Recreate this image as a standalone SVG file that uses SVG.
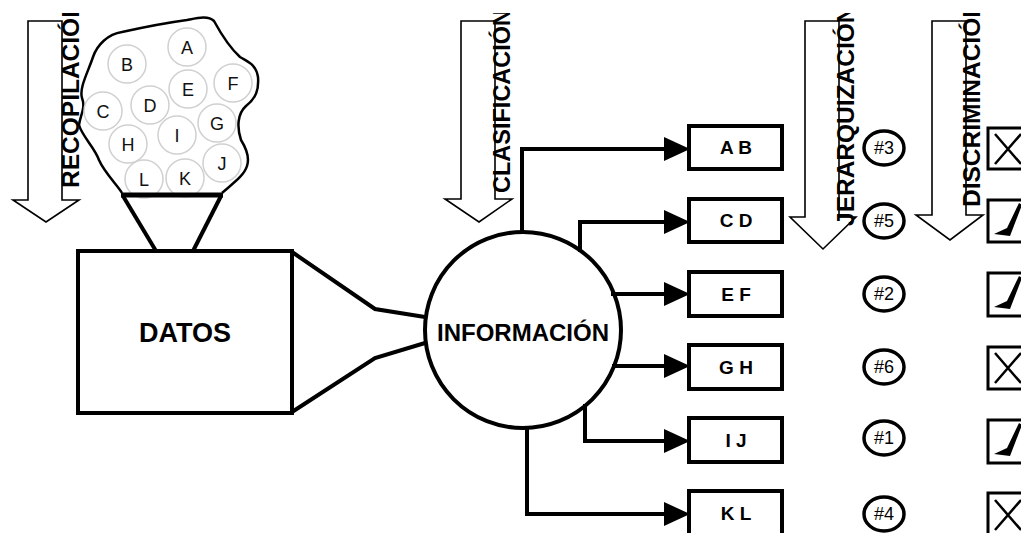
<svg xmlns="http://www.w3.org/2000/svg" width="1021" height="533" viewBox="0 0 1021 533">
<style>
.blk{fill:none;stroke:#000;stroke-width:1.6}
.stage{font-family:"Liberation Sans",Arial,sans-serif;font-weight:bold;font-size:24.5px;fill:#000}
.item{fill:#fff;stroke:#d0d0d0;stroke-width:1.5}
.itxt{font-family:"Liberation Sans",Arial,sans-serif;font-size:18px;fill:#111;text-anchor:middle}
.box{fill:#fff;stroke:#000;stroke-width:4}
.btxt{font-family:"Liberation Sans",Arial,sans-serif;font-weight:bold;font-size:19px;fill:#000;text-anchor:middle}
.rank{fill:#fff;stroke:#000;stroke-width:3.5}
.rtxt{font-family:"Liberation Sans",Arial,sans-serif;font-size:18px;fill:#000;text-anchor:middle}
.ibox{fill:#fff;stroke:#000;stroke-width:3}
.conn{fill:none;stroke:#000;stroke-width:4}
</style>
<defs>
<marker id="ah" markerUnits="userSpaceOnUse" markerWidth="27" markerHeight="25" refX="16" refY="12" orient="auto">
<path d="M0,0 L26,12 L0,24 Z" fill="#000"/>
</marker>
<clipPath id="top"><rect x="0" y="13" width="1021" height="520"/></clipPath>
</defs>
<rect width="1021" height="533" fill="#fff"/>

<g id="stage-arrows">
<polygon class="blk" points="28,21 62,21 62,200 79,200 46,222 13,200 28,200"/>
<polygon class="blk" points="461,21 495,21 495,199 512,199 479,222 445,199 461,199"/>
<polygon class="blk" points="805,21 839,21 839,217 856,217 823,249 790,217 805,217"/>
<polygon class="blk" points="932,21 966,21 966,215 983,215 950,240 916,215 932,215"/>
<g clip-path="url(#top)">
<text class="stage" transform="translate(79,188) rotate(-90)">RECOPILACIÓN</text>
<text class="stage" style="font-size:23.5px" transform="translate(510,193) rotate(-90)">CLASIFICACIÓN</text>
<text class="stage" transform="translate(854,226) rotate(-90)">JERARQUIZACIÓN</text>
<text class="stage" transform="translate(980,207) rotate(-90)">DISCRIMINACIÓN</text>
</g>
</g>

<g id="cloud">
<path d="M122,193 C118,186 104,172 99,160 C95,148 82,136 79,125 C80,116 86,108 82,98 C79,88 88,72 93,57 C97,45 108,34 122,32 C140,28 165,23 187,20 C197,18 208,15 214,21 C220,32 229,47 240,57 C248,62 256,64 258,77 C259,90 256,98 246,106 C237,114 237,128 241,140 C246,148 250,157 247,166 C244,176 232,184 222,193" fill="#fff" stroke="#000" stroke-width="2.5" stroke-linejoin="round"/>
<circle class="item" cx="187" cy="47" r="19"/><text class="itxt" x="187" y="54">A</text>
<circle class="item" cx="127" cy="64" r="19"/><text class="itxt" x="127" y="71">B</text>
<circle class="item" cx="188" cy="89" r="19"/><text class="itxt" x="188" y="96">E</text>
<circle class="item" cx="233" cy="83" r="19"/><text class="itxt" x="233" y="90">F</text>
<circle class="item" cx="103" cy="111" r="19"/><text class="itxt" x="103" y="118">C</text>
<circle class="item" cx="150" cy="105" r="19"/><text class="itxt" x="150" y="112">D</text>
<circle class="item" cx="217" cy="123" r="19"/><text class="itxt" x="217" y="130">G</text>
<circle class="item" cx="128" cy="144" r="19"/><text class="itxt" x="128" y="151">H</text>
<circle class="item" cx="177" cy="135" r="19"/><text class="itxt" x="177" y="142">I</text>
<circle class="item" cx="222" cy="163" r="19"/><text class="itxt" x="222" y="170">J</text>
<circle class="item" cx="144" cy="179" r="19"/><text class="itxt" x="144" y="186">L</text>
<circle class="item" cx="185" cy="178" r="19"/><text class="itxt" x="185" y="185">K</text>
<line x1="121" y1="195" x2="223" y2="195" stroke="#000" stroke-width="5"/>
</g>

<g id="datos">
<rect x="78" y="251" width="214" height="162" fill="#fff" stroke="#000" stroke-width="4"/>
<text x="185" y="342" font-family="Liberation Sans, Arial, sans-serif" font-weight="bold" font-size="27" text-anchor="middle">DATOS</text>
</g>

<g id="informacion">
<circle cx="523" cy="330" r="98" fill="#fff" stroke="#000" stroke-width="4"/>
<text x="523" y="341" font-family="Liberation Sans, Arial, sans-serif" font-weight="bold" font-size="24" text-anchor="middle">INFORMACIÓN</text>
</g>

<g id="connectors">
<line class="conn" x1="123" y1="196" x2="156" y2="251"/>
<line class="conn" x1="221" y1="196" x2="193" y2="251"/>
<polyline class="conn" points="292,252 375,309 425,317"/>
<polyline class="conn" points="292,412 375,358 425,343"/>
<path class="conn" d="M522,232 V149 H680" marker-end="url(#ah)"/>
<path class="conn" d="M580,252 V222 H680" marker-end="url(#ah)"/>
<path class="conn" d="M611,294 H680" marker-end="url(#ah)"/>
<path class="conn" d="M612,366 H680" marker-end="url(#ah)"/>
<path class="conn" d="M585,404 V441 H680" marker-end="url(#ah)"/>
<path class="conn" d="M527,428 V514 H680" marker-end="url(#ah)"/>
</g>

<g id="box-ab"><rect class="box" x="689" y="126" width="93" height="43"/><text class="btxt" x="736" y="154">A B</text></g>
<g id="box-cd"><rect class="box" x="689" y="199" width="93" height="43"/><text class="btxt" x="736" y="227">C D</text></g>
<g id="box-ef"><rect class="box" x="689" y="272" width="93" height="44"/><text class="btxt" x="736" y="301">E F</text></g>
<g id="box-gh"><rect class="box" x="689" y="345" width="93" height="44"/><text class="btxt" x="736" y="374">G H</text></g>
<g id="box-ij"><rect class="box" x="689" y="418" width="93" height="44"/><text class="btxt" x="736" y="447">I J</text></g>
<g id="box-kl"><rect class="box" x="689" y="491" width="93" height="46"/><text class="btxt" x="736" y="520">K L</text></g>

<g id="rank-ab"><ellipse class="rank" cx="884" cy="148" rx="20" ry="17"/><text class="rtxt" x="884" y="154">#3</text></g>
<g id="rank-cd"><ellipse class="rank" cx="884" cy="221" rx="20" ry="17"/><text class="rtxt" x="884" y="227">#5</text></g>
<g id="rank-ef"><ellipse class="rank" cx="884" cy="294" rx="20" ry="17"/><text class="rtxt" x="884" y="300">#2</text></g>
<g id="rank-gh"><ellipse class="rank" cx="884" cy="367" rx="20" ry="17"/><text class="rtxt" x="884" y="373">#6</text></g>
<g id="rank-ij"><ellipse class="rank" cx="884" cy="438" rx="20" ry="17"/><text class="rtxt" x="884" y="444">#1</text></g>
<g id="rank-kl"><ellipse class="rank" cx="884" cy="514" rx="20" ry="17"/><text class="rtxt" x="884" y="520">#4</text></g>

<g id="mark-ab"><rect class="ibox" x="988" y="128" width="45" height="41"/><path d="M995,134 L1021,164 M1021,134 L995,164" stroke="#000" stroke-width="2.5"/></g>
<g id="mark-cd"><rect class="ibox" x="988" y="200" width="45" height="42"/><path d="M994,234 L1007,228 L1019,203 L1022,205 L1010,236 Z" fill="#000"/></g>
<g id="mark-ef"><rect class="ibox" x="988" y="273" width="45" height="43"/><path d="M994,307 L1007,301 L1019,276 L1022,278 L1010,309 Z" fill="#000"/></g>
<g id="mark-gh"><rect class="ibox" x="988" y="347" width="45" height="42"/><path d="M995,353 L1021,383 M1021,353 L995,383" stroke="#000" stroke-width="2.5"/></g>
<g id="mark-ij"><rect class="ibox" x="988" y="420" width="45" height="43"/><path d="M994,454 L1007,448 L1019,423 L1022,425 L1010,456 Z" fill="#000"/></g>
<g id="mark-kl"><rect class="ibox" x="988" y="493" width="45" height="45"/><path d="M995,500 L1021,530 M1021,500 L995,530" stroke="#000" stroke-width="2.5"/></g>
</svg>
